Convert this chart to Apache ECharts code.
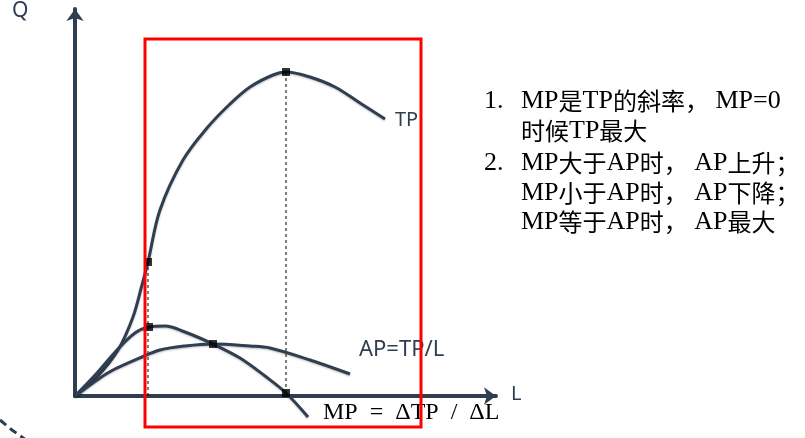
<!DOCTYPE html>
<html>
<head>
<meta charset="utf-8">
<script src="https://cdn.jsdelivr.net/npm/echarts@6/dist/echarts.min.js"></script>
<style>html,body{margin:0;padding:0;background:#fff;}#c{width:805px;height:438px;}</style>
</head>
<body>
<div id="c"></div>
<script>
// Data (units: L along x, Q along y)
const tpData = [[0,0],[22,19],[43,46],[58,79],[67,111],[73,134],[85,186],[108,236],[132,268],[155,292],[175,309],[198,321],[211,324],[235,319],[260,309],[285,293],[310,277]];
const mpData = [[0,0],[22,23],[42,46],[60,63],[74,69],[90,70],[110,64],[138,52],[165,38],[190,20],[211,3],[233,-21]];
const apData = [[0,0],[25,18],[38,26],[67,39],[85,46],[110,50],[138,52],[175,50],[195,48],[235,36],[275,22]];
const keyPoints = [[73,134],[74,69],[138,52],[211,324],[211,3]];
const dashA = [[73,0],[73,134]];
const dashB = [[211,3],[211,324]];
const notes = [
  {n:'1.', t:'MP是TP的斜率， MP=0'},
  {n:'',   t:'时候TP最大'},
  {n:'2.', t:'MP大于AP时， AP上升；'},
  {n:'',   t:'MP小于AP时， AP下降；'},
  {n:'',   t:'MP等于AP时， AP最大'}
];
const labels = {q:'Q', l:'L', tp:'TP', ap:'AP=TP/L', mp:'MP\u2002=\u2002ΔTP\u2002/\u2002ΔL'};

const ink = '#2F3E50';
const chart = echarts.init(document.getElementById('c'), null, {renderer:'canvas'});
const curveStyle = {color: ink, width: 3, shadowColor:'rgba(0,0,0,0.25)', shadowBlur:2, shadowOffsetY:1};
const cjk = /[\u3000-\u303f\u4e00-\u9fff\uff00-\uffef]/;
function toRich(s){
  let out = '', cur = '', curT = null;
  for (const ch of s){
    const t = cjk.test(ch) ? 'c' : 'l';
    if (t !== curT && cur){ out += '{'+curT+'|'+cur+'}'; cur=''; }
    curT = t; cur += ch;
  }
  if (cur) out += '{'+curT+'|'+cur+'}';
  return out;
}
const rich = {
  c:{fontFamily:'Noto Sans CJK SC', fontSize:24, lineHeight:30, verticalAlign:'middle', fill:'#000', color:'#000'},
  l:{fontFamily:'Liberation Serif', fontSize:26, lineHeight:30, verticalAlign:'middle', fill:'#000', color:'#000'}
};
const noteY = [103,133,165,195,224];
const graphic = [];
notes.forEach((r,i)=>{
  if (r.n) graphic.push({type:'text', left:484, top:noteY[i]-15, style:{text:'{l|'+r.n+'}', rich:rich}, z:10});
  graphic.push({type:'text', left:521, top:noteY[i]-15, style:{text:toRich(r.t), rich:rich}, z:10});
});
graphic.push(
  {type:'text', left:12, top:1, style:{text:labels.q, font:'21px "Noto Sans"', fill:ink}},
  {type:'text', left:511, top:384, style:{text:labels.l, font:'20px "Noto Sans"', fill:ink}},
  {type:'text', left:395, top:110, style:{text:labels.tp, font:'20px "Noto Sans"', fill:ink}},
  {type:'text', left:359, top:339, style:{text:labels.ap, font:'22px "Noto Sans"', fill:ink}},
  {type:'text', left:323, top:401, style:{text:labels.mp, font:'24px "Liberation Serif"', fill:'#000'}},
  {type:'rect', shape:{x:145, y:39, width:276, height:388}, style:{fill:'none', stroke:'#FF0000', lineWidth:3}, z:100},
  {type:'polyline', shape:{points:[[0,420],[12,430],[26,440]]}, style:{stroke:ink, lineWidth:3, lineDash:[8,5], fill:'none'}}
);

chart.setOption({
  animation:false,
  grid:{left:75, top:9, right:309, bottom:42},
  xAxis:{type:'value', min:0, max:421, axisLine:{show:true, onZero:false, symbol:['none','arrow'], symbolSize:[13,12], lineStyle:{color:ink, width:4}}, axisTick:{show:false}, axisLabel:{show:false}, splitLine:{show:false}},
  yAxis:{type:'value', min:0, max:387, axisLine:{show:true, onZero:false, symbol:['none','arrow'], symbolSize:[13,12], lineStyle:{color:ink, width:4}}, axisTick:{show:false}, axisLabel:{show:false}, splitLine:{show:false}},
  series:[
    {type:'line', data:tpData, smooth:0.35, showSymbol:false, clip:false, lineStyle:curveStyle, z:3},
    {type:'line', data:mpData, smooth:0.35, showSymbol:false, clip:false, lineStyle:curveStyle, z:3},
    {type:'line', data:apData, smooth:0.35, showSymbol:false, clip:false, lineStyle:curveStyle, z:3},
    {type:'line', data:dashA, showSymbol:false, clip:false, lineStyle:{color:'#000', width:1, type:[3,3]}, z:2},
    {type:'line', data:dashB, showSymbol:false, clip:false, lineStyle:{color:'#000', width:1, type:[3,3]}, z:2},
    {type:'scatter', data:keyPoints, symbol:'rect', symbolSize:8, itemStyle:{color:'#000'}, clip:false, z:5}
  ],
  graphic: graphic
});
</script>
</body>
</html>
